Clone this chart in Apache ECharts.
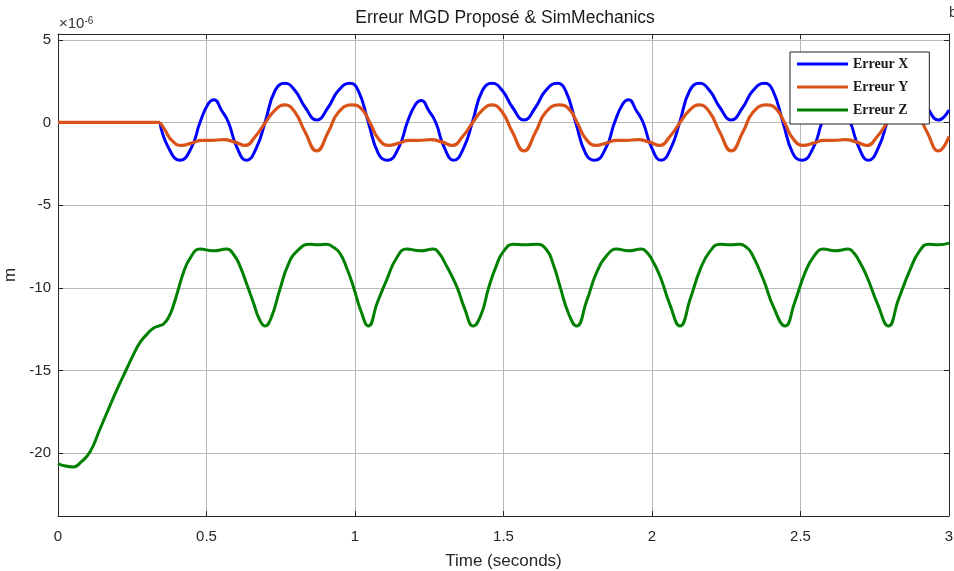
<!DOCTYPE html>
<html>
<head>
<meta charset="utf-8">
<script src="https://cdn.jsdelivr.net/npm/echarts@6/dist/echarts.min.js"></script>
<style>
html,body{margin:0;padding:0;background:#fff;}
#c{width:954px;height:571px;}
</style>
</head>
<body>
<div id="c"></div>
<script>
// ---- data ----
const titleText = 'Erreur MGD Proposé & SimMechanics';
const xLabelText = 'Time (seconds)';
const yLabelText = 'm';
const seriesNames = ['Erreur X', 'Erreur Y', 'Erreur Z'];
const yTickValues = [-20, -15, -10, -5, 0, 5];

// flat start (before motion), shared by X and Y
const flatStart = [[0, 0], [0.343, 0]];

// Erreur X  [time s, value x1e-6 m]
const errX = [
  [0.343, 0], [0.371, -1.49],
  [0.411, -2.29], [0.450, -1.49], [0.478, 0], [0.506, 1.13], [0.525, 1.37], [0.551, 0.72],
  [0.574, 0], [0.602, -1.49], [0.635, -2.29], [0.669, -1.49], [0.697, 0], [0.731, 1.93],
  [0.764, 2.37], [0.798, 1.93], [0.832, 0.92], [0.871, 0.15], [0.910, 0.92], [0.944, 1.93],
  [0.983, 2.37], [1.011, 1.93], [1.045, 0], [1.079, -1.9],
  [1.109, -2.29], [1.148, -1.49], [1.176, 0], [1.204, 1.1], [1.223, 1.33], [1.249, 0.7],
  [1.272, 0], [1.300, -1.49], [1.333, -2.29], [1.367, -1.49], [1.395, 0], [1.429, 1.93],
  [1.462, 2.37], [1.496, 1.93], [1.530, 0.92], [1.569, 0.15], [1.608, 0.92], [1.642, 1.93],
  [1.681, 2.37], [1.709, 1.93], [1.743, 0], [1.777, -1.9],
  [1.807, -2.29], [1.846, -1.49], [1.874, 0], [1.902, 1.13], [1.921, 1.37], [1.947, 0.72],
  [1.970, 0], [1.998, -1.49], [2.031, -2.29], [2.065, -1.49], [2.093, 0], [2.127, 1.93],
  [2.160, 2.37], [2.194, 1.93], [2.228, 0.92], [2.267, 0.15], [2.306, 0.92], [2.340, 1.93],
  [2.379, 2.37], [2.407, 1.93], [2.441, 0], [2.475, -1.9],
  [2.505, -2.29], [2.544, -1.49], [2.572, 0], [2.600, 1.13], [2.619, 1.37], [2.645, 0.72],
  [2.668, 0], [2.696, -1.49], [2.729, -2.29], [2.763, -1.49], [2.791, 0], [2.825, 1.93],
  [2.858, 2.37], [2.892, 1.93], [2.926, 0.92], [2.965, 0.15], [3.0, 0.75]
];

// Erreur Y
const errY = [
  [0.343, 0], [0.360, -0.45], [0.383, -1.08],
  [0.416, -1.39], [0.450, -1.25], [0.484, -1.08], [0.517, -1.08], [0.557, -1.04], [0.596, -1.19],
  [0.630, -1.39], [0.663, -0.88], [0.697, -0.04], [0.731, 0.75], [0.764, 1.06], [0.798, 0.62],
  [0.832, -0.58], [0.871, -1.72], [0.910, -0.58], [0.944, 0.62], [0.989, 1.06], [1.022, 0.82],
  [1.050, 0], [1.079, -0.99],
  [1.114, -1.39], [1.148, -1.25], [1.182, -1.08], [1.215, -1.08], [1.255, -1.04], [1.294, -1.19],
  [1.328, -1.39], [1.361, -0.88], [1.395, -0.04], [1.429, 0.75], [1.462, 1.06], [1.496, 0.62],
  [1.530, -0.58], [1.569, -1.72], [1.608, -0.58], [1.642, 0.62], [1.687, 1.06], [1.720, 0.82],
  [1.748, 0], [1.777, -0.99],
  [1.812, -1.39], [1.846, -1.25], [1.880, -1.08], [1.913, -1.08], [1.953, -1.04], [1.992, -1.19],
  [2.026, -1.39], [2.059, -0.88], [2.093, -0.04], [2.127, 0.75], [2.160, 1.06], [2.194, 0.62],
  [2.228, -0.58], [2.267, -1.72], [2.306, -0.58], [2.340, 0.62], [2.385, 1.06], [2.418, 0.82],
  [2.446, 0], [2.475, -0.99],
  [2.510, -1.39], [2.544, -1.25], [2.578, -1.08], [2.611, -1.08], [2.651, -1.04], [2.690, -1.19],
  [2.724, -1.39], [2.757, -0.88], [2.791, -0.04], [2.825, 0.75], [2.858, 1.06], [2.892, 0.62],
  [2.926, -0.58], [2.965, -1.72], [3.0, -0.85]
];

// Erreur Z
const errZ = [
  [0, -20.63], [0.025, -20.78], [0.05, -20.83], [0.08, -20.5], [0.108, -19.92], [0.14, -18.6],
  [0.175, -17.12], [0.205, -15.9], [0.231, -14.91], [0.255, -14.0], [0.276, -13.31], [0.30, -12.8],
  [0.321, -12.45], [0.34, -12.3], [0.355, -12.2], [0.372, -11.8], [0.388, -11.1], [0.405, -10.1],
  [0.422, -9.1], [0.445, -8.2], [0.478, -7.66], [0.523, -7.76], [0.568, -7.66], [0.592, -8.0],
  [0.613, -8.7], [0.636, -9.8], [0.658, -10.9], [0.678, -11.9], [0.697, -12.31], [0.718, -11.8],
  [0.747, -10.1], [0.775, -8.6], [0.804, -7.8], [0.848, -7.36], [0.876, -7.4], [0.904, -7.36],
  [0.927, -7.55], [0.949, -7.9], [0.972, -8.8], [0.994, -9.9], [1.02, -11.4], [1.045, -12.31],
  [1.075, -10.9], [1.107, -9.5], [1.14, -8.2], [1.174, -7.66], [1.22, -7.76], [1.264, -7.66],
  [1.285, -7.95], [1.30, -8.4], [1.342, -9.9], [1.37, -11.3], [1.398, -12.31], [1.425, -11.6],
  [1.45, -10.0], [1.475, -8.7], [1.50, -7.8], [1.533, -7.36], [1.572, -7.4], [1.612, -7.36],
  [1.645, -7.7], [1.668, -8.6], [1.69, -9.9], [1.72, -11.6], [1.746, -12.31], [1.78, -10.8],
  [1.813, -9.1], [1.85, -8.0], [1.881, -7.66], [1.92, -7.76], [1.965, -7.66], [1.985, -7.9],
  [2.0, -8.3], [2.027, -9.3], [2.06, -11.0], [2.094, -12.31], [2.13, -10.6], [2.162, -8.9],
  [2.195, -7.8], [2.229, -7.36], [2.263, -7.4], [2.296, -7.36], [2.318, -7.55], [2.335, -7.9],
  [2.375, -9.5], [2.41, -11.2], [2.448, -12.31], [2.48, -10.9], [2.515, -9.1], [2.545, -8.1],
  [2.577, -7.66], [2.616, -7.76], [2.661, -7.66], [2.68, -7.9], [2.695, -8.3], [2.723, -9.3],
  [2.76, -11.0], [2.796, -12.31], [2.83, -10.7], [2.869, -8.9], [2.90, -7.8], [2.931, -7.36],
  [2.965, -7.4], [3.0, -7.3]
];

// ---- chart ----
const colX = '#0000ff', colY = '#d95319', colZ = '#008000';
const txt = '#262626';
const gridCol = '#b8b8b8';
const font = 'Liberation Sans, Arial, Helvetica, sans-serif';

const chart = echarts.init(document.getElementById('c'), null, {renderer: 'canvas'});

const baseX = {
  type: 'value', min: 0, max: 3, interval: 0.5,
  axisLine: {show: true, onZero: false, lineStyle: {color: txt, width: 1}},
  axisTick: {show: true, inside: true, length: 5, lineStyle: {color: txt}}
};
const baseY = {
  type: 'value', min: -23.8, max: 5.35,
  axisLine: {show: true, onZero: false, lineStyle: {color: txt, width: 1}},
  axisTick: {show: true, inside: true, length: 5, customValues: yTickValues, lineStyle: {color: txt}}
};

const lineSeries = (name, data, color, smooth, z, w) => ({
  name, type: 'line', data, smooth, showSymbol: false, symbol: 'none',
  lineStyle: {color, width: w}, itemStyle: {color}, z, xAxisIndex: 0, yAxisIndex: 0
});

chart.setOption({
  animation: false,
  backgroundColor: '#fff',
  textStyle: {fontFamily: font},
  grid: {left: 58, right: 5, top: 34, bottom: 55, containLabel: false, outerBoundsMode: 'none'},
  xAxis: [
    Object.assign({}, baseX, {
      position: 'bottom',
      axisLabel: {show: true, margin: 13, fontSize: 15, color: txt, fontFamily: font},
      splitLine: {show: true, lineStyle: {color: gridCol, width: 1}},
      name: xLabelText, nameLocation: 'middle', nameGap: 37,
      nameTextStyle: {fontSize: 17, color: txt, fontFamily: font}
    }),
    Object.assign({}, baseX, {
      position: 'top',
      axisLabel: {show: false}, splitLine: {show: false}
    })
  ],
  yAxis: [
    Object.assign({}, baseY, {
      position: 'left',
      axisLabel: {show: true, margin: 7, fontSize: 15, color: txt, fontFamily: font, customValues: yTickValues},
      splitLine: {show: true, lineStyle: {color: gridCol, width: 1}},
      name: yLabelText, nameLocation: 'middle', nameGap: 33, nameRotate: 90,
      nameTextStyle: {fontSize: 17, color: txt, fontFamily: font}
    }),
    Object.assign({}, baseY, {
      position: 'right',
      axisLabel: {show: false}, splitLine: {show: false}
    })
  ],
  legend: {
    data: seriesNames,
    orient: 'vertical',
    left: 790, top: 52,
    padding: [5, 21, 7, 7],
    itemGap: 9,
    itemWidth: 51, itemHeight: 3,
    icon: 'rect',
    backgroundColor: '#fff',
    borderColor: '#222', borderWidth: 1,
    textStyle: {fontFamily: 'Liberation Serif, Times New Roman, serif', fontWeight: 'bold',
                fontSize: 14, lineHeight: 14, color: '#1a1a1a'},
    selectedMode: false
  },
  graphic: [
    {type: 'text', x: 505, y: 18, style: {text: titleText, fontSize: 17.5, fill: '#1a1a1a',
      fontFamily: font, textAlign: 'center', textVerticalAlign: 'middle'}},
    {type: 'text', x: 59, y: 31, style: {text: '{a|×10}{s|-6}', textVerticalAlign: 'bottom',
      rich: {a: {fontSize: 15, fill: '#333', fontFamily: font, verticalAlign: 'bottom'},
             s: {fontSize: 10, fill: '#333', fontFamily: font, verticalAlign: 'top'}}}},
    {type: 'text', x: 949, y: 5, style: {text: 'b', fontSize: 15, fill: '#333', fontFamily: font}}
  ],
  series: [
    lineSeries('Erreur X', flatStart, colX, false, 2, 3),
    lineSeries('Erreur X', errX, colX, 0.5, 2, 3),
    lineSeries('Erreur Y', flatStart, colY, false, 3, 3.2),
    lineSeries('Erreur Y', errY, colY, 0.5, 3, 3.2),
    lineSeries('Erreur Z', errZ, colZ, 0.5, 4, 3)
  ]
});
</script>
</body>
</html>
